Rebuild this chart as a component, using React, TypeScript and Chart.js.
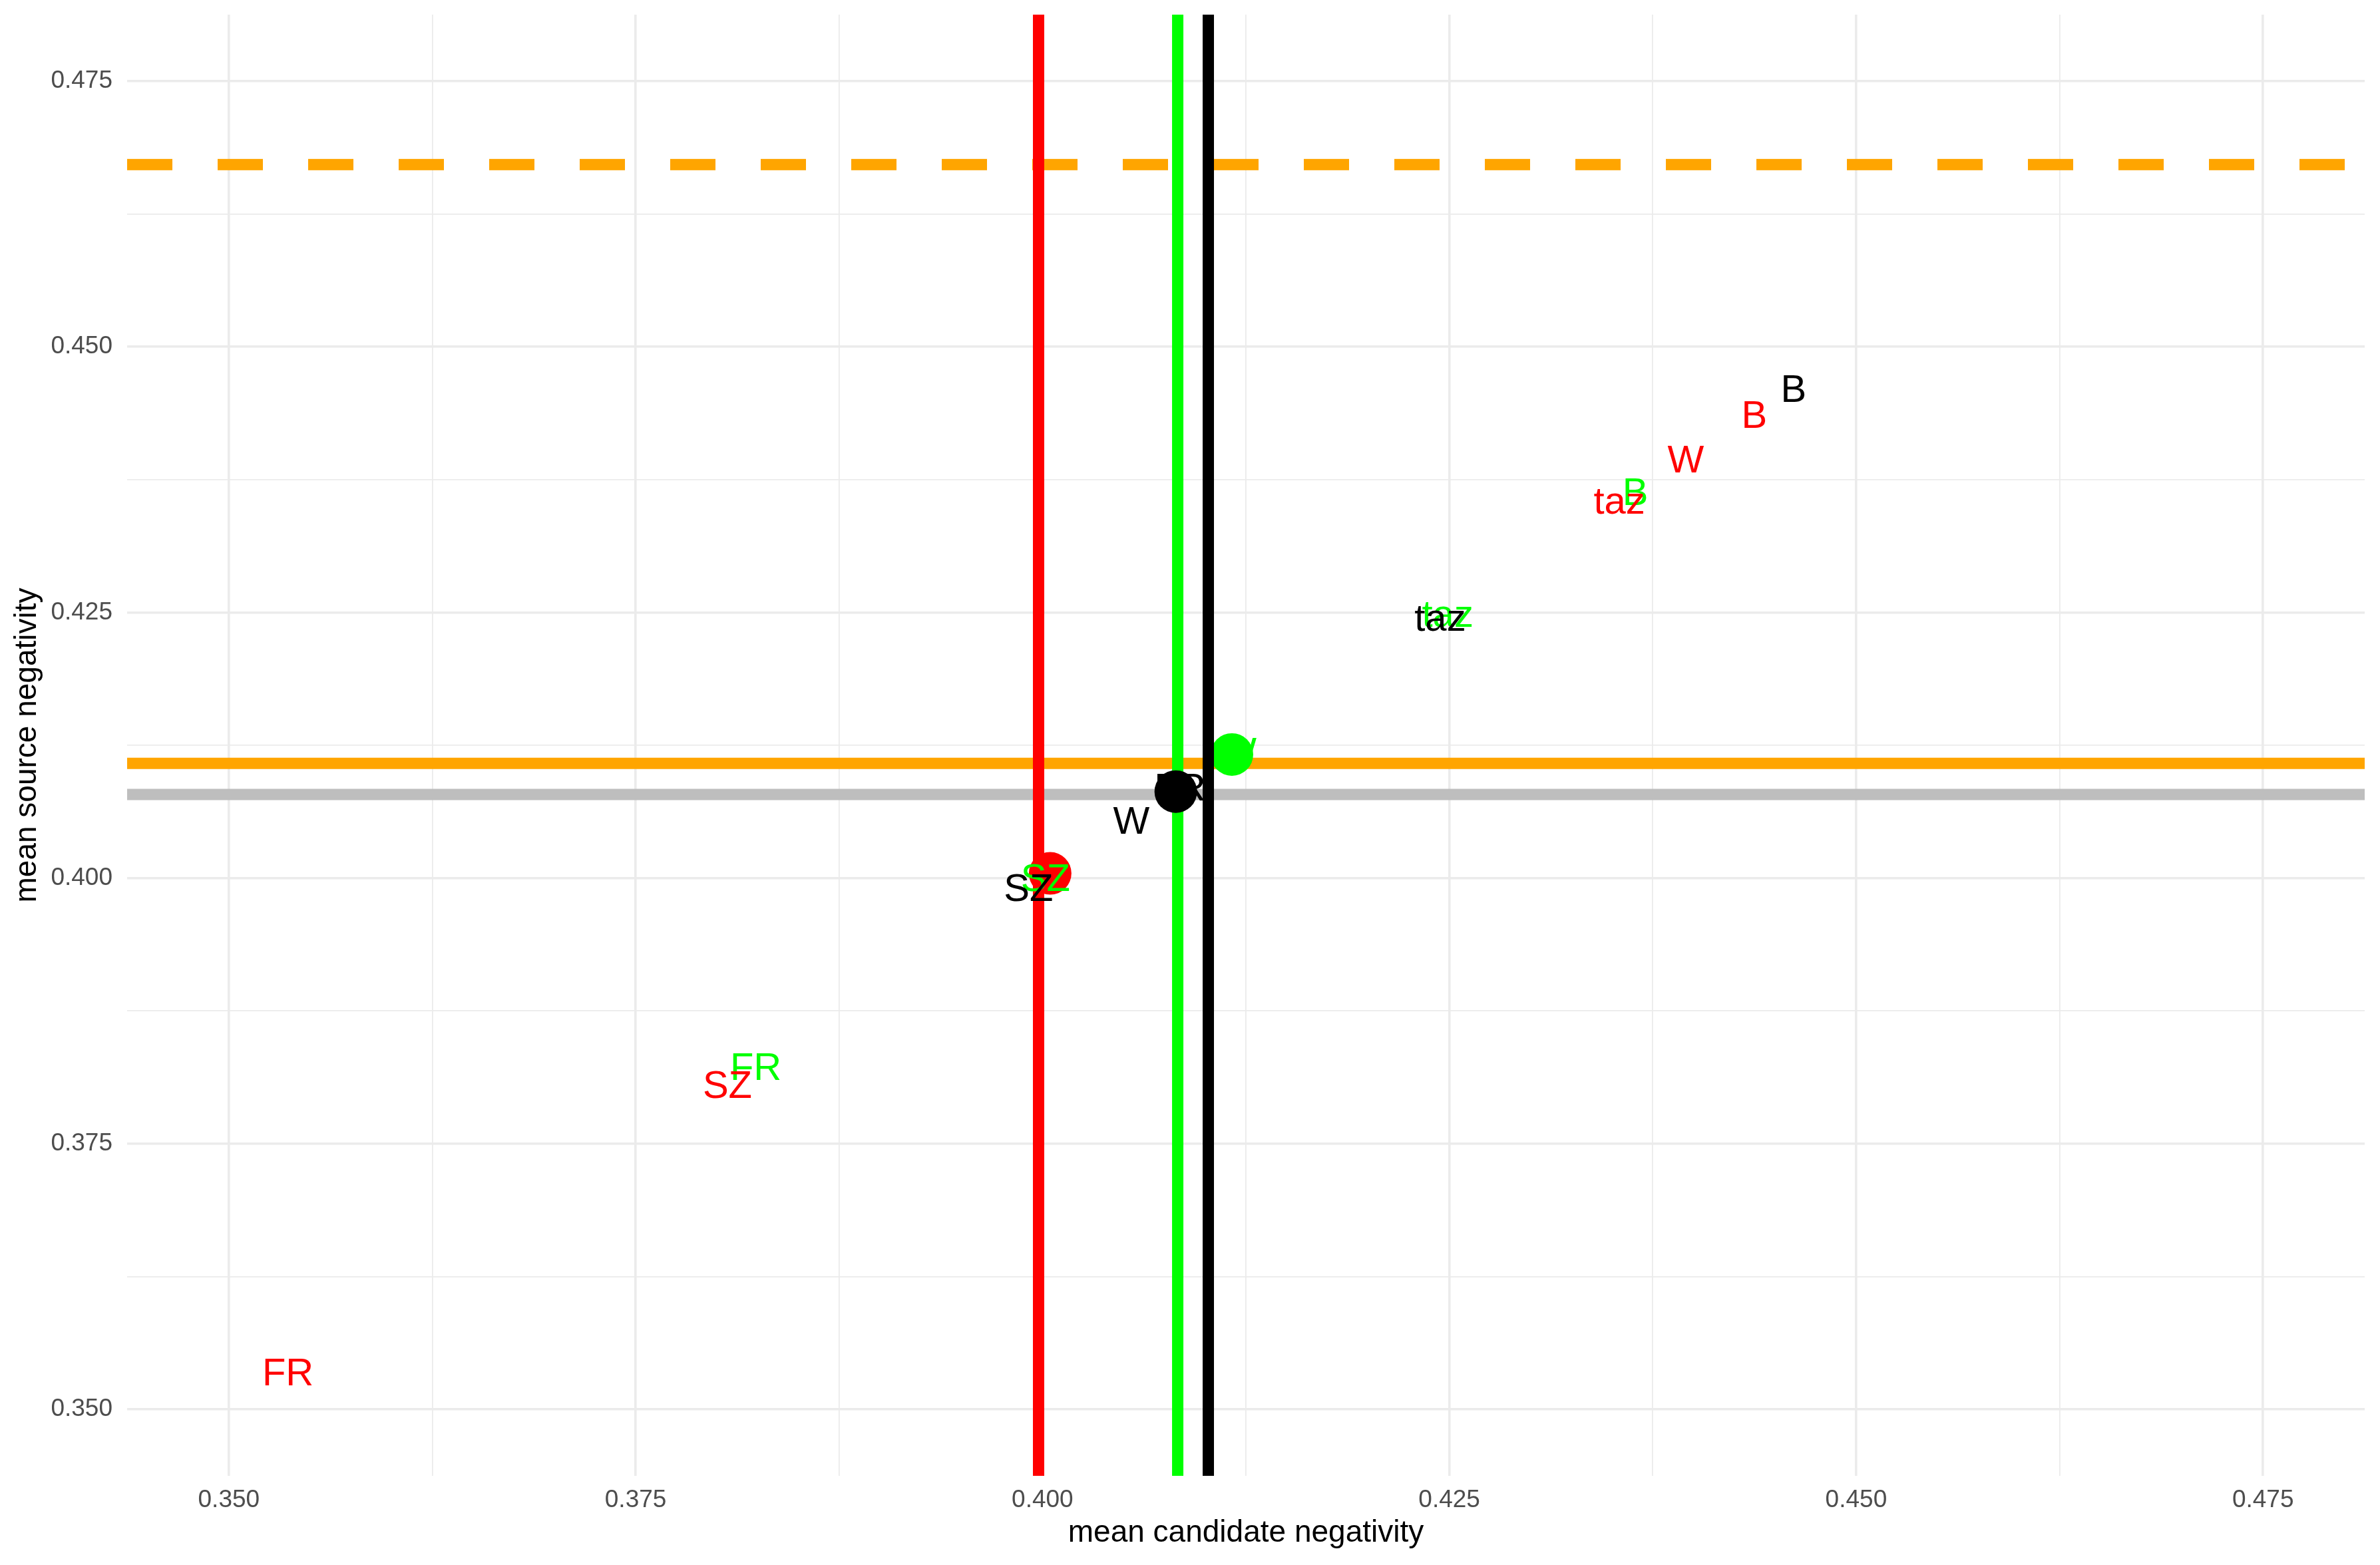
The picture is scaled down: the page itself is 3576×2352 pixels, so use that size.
import React, { useEffect, useRef } from 'react';
import { Chart, registerables } from 'chart.js';

Chart.register(...registerables);

// ---- data ----
const axisLimits = [0.35, 0.475];
const majorTicks = [0.35, 0.375, 0.4, 0.425, 0.45, 0.475];
const minorTicks = [0.3625, 0.3875, 0.4125, 0.4375, 0.4625];

const labelNames = ['FR', 'SZ', 'taz', 'B', 'W'];
const redX = [0.35363, 0.38064, 0.43545, 0.44374, 0.43953];
const redY = [0.3535, 0.38057, 0.43539, 0.44364, 0.43943];
const greenX = [0.38238, 0.40018, 0.4249, 0.43643, 0.41203];
const greenY = [0.38224, 0.40003, 0.42478, 0.43635, 0.41194];
const blackX = [0.40845, 0.39914, 0.42444, 0.44615, 0.40546];
const blackY = [0.40858, 0.39909, 0.42437, 0.44606, 0.4054];

const meanGroups = ['red', 'black', 'green'];
const meanX = [0.40047, 0.40819, 0.41164];
const meanY = [0.40044, 0.40814, 0.41163];

const vlineGroups = ['red', 'green', 'black'];
const vlineX = [0.39976, 0.40831, 0.41019];

const hlineSolidOrange = 0.4108;
const hlineGrey = 0.40786;
const hlineDashedOrange = 0.46714;

const xTitle = 'mean candidate negativity';
const yTitle = 'mean source negativity';

// ---- styles ----
const COLORS: Record<string, string> = {
  red: '#FF0000',
  green: '#00FF00',
  black: '#000000',
  orange: '#FFA500',
  grey: '#BEBEBE',
};
const FAMILY = '"Liberation Sans", Arial, Helvetica, sans-serif';
const W = 3576;
const H = 2352;
const LINE_W = 17;

const expand = (axisLimits[1] - axisLimits[0]) * 0.05;
const LIM_MIN = axisLimits[0] - expand;
const LIM_MAX = axisLimits[1] + expand;
const allTicks = [...majorTicks, ...minorTicks].sort((a, b) => a - b);
const isMajor = (v: number) => majorTicks.some((m) => Math.abs(m - v) < 1e-7);

const zip = (xs: number[], ys: number[]) => xs.map((x, i) => ({ x, y: ys[i] }));

const textLabelPlugin = {
  id: 'textLabels',
  afterDatasetsDraw(chart: any) {
    const ctx = chart.ctx;
    chart.data.datasets.forEach((ds: any, i: number) => {
      if (!ds.textLabels) return;
      const meta = chart.getDatasetMeta(i);
      ctx.save();
      ctx.font = `58px ${FAMILY}`;
      ctx.fillStyle = ds.textColor;
      ctx.textAlign = 'center';
      ctx.textBaseline = 'alphabetic';
      meta.data.forEach((el: any, j: number) => {
        const t = ds.textLabels[j];
        const m = ctx.measureText(t);
        const off = (m.actualBoundingBoxAscent - m.actualBoundingBoxDescent) / 2;
        ctx.fillText(t, el.x, el.y + off);
      });
      ctx.restore();
    });
  },
};

function hline(value: number, color: string, order: number, dash?: number[]) {
  return {
    type: 'line' as const,
    data: [
      { x: LIM_MIN, y: value },
      { x: LIM_MAX, y: value },
    ],
    borderColor: color,
    borderWidth: LINE_W,
    borderDash: dash || [],
    pointRadius: 0,
    fill: false,
    order,
  };
}

function vline(value: number, color: string, order: number) {
  return {
    type: 'line' as const,
    data: [
      { x: value, y: LIM_MIN },
      { x: value, y: LIM_MAX },
    ],
    borderColor: color,
    borderWidth: LINE_W,
    pointRadius: 0,
    fill: false,
    order,
  };
}

function scaleOptions(title: string, isX: boolean) {
  return {
    type: 'linear' as const,
    min: LIM_MIN,
    max: LIM_MAX,
    afterBuildTicks: (axis: any) => {
      axis.ticks = allTicks.map((v) => ({ value: v }));
    },
    afterFit: (axis: any) => {
      if (isX) axis.height = 134;
      else axis.width = 191;
      axis.paddingTop = 0;
      axis.paddingBottom = 0;
      axis.paddingLeft = 0;
      axis.paddingRight = 0;
    },
    ticks: {
      autoSkip: false,
      maxRotation: 0,
      minRotation: 0,
      padding: isX ? 15 : 22,
      color: '#4D4D4D',
      font: { size: 37, family: FAMILY },
      callback: (v: any) => (isMajor(Number(v)) ? Number(v).toFixed(3) : ''),
    },
    grid: {
      color: '#EBEBEB',
      lineWidth: (c: any) => (c.tick ? (isMajor(c.tick.value) ? 3.6 : 1.8) : 0),
      drawTicks: false,
    },
    border: { display: false },
    title: {
      display: true,
      text: title,
      color: '#000000',
      font: { size: 46, family: FAMILY },
      padding: isX ? { top: 0, bottom: 20 } : { top: 13.5, bottom: 0 },
    },
  };
}

export default function App() {
  const canvasRef = useRef<HTMLCanvasElement | null>(null);

  useEffect(() => {
    if (!canvasRef.current) return;
    const vlineOrders = [7, 6, 2];
    const datasets: any[] = [
      hline(hlineSolidOrange, COLORS.orange, 10),
      hline(hlineGrey, COLORS.grey, 9),
      hline(hlineDashedOrange, COLORS.orange, 8, [68, 68]),
      ...vlineX.map((v, i) => vline(v, COLORS[vlineGroups[i]], vlineOrders[i])),
      {
        type: 'scatter',
        data: zip(meanX, meanY),
        pointRadius: 32,
        pointBorderWidth: 0,
        pointBackgroundColor: meanGroups.map((g) => COLORS[g]),
        pointBorderColor: meanGroups.map((g) => COLORS[g]),
        order: 4,
      },
      {
        type: 'scatter',
        data: zip(greenX, greenY),
        pointRadius: 0,
        textLabels: labelNames,
        textColor: COLORS.green,
        order: 1,
      },
      {
        type: 'scatter',
        data: zip(redX, redY),
        pointRadius: 0,
        textLabels: labelNames,
        textColor: COLORS.red,
        order: 1,
      },
      {
        type: 'scatter',
        data: zip(blackX, blackY),
        pointRadius: 0,
        textLabels: labelNames,
        textColor: COLORS.black,
        order: 1,
      },
    ];

    const chart = new Chart(canvasRef.current, {
      type: 'scatter',
      data: { datasets },
      options: {
        animation: false,
        responsive: false,
        devicePixelRatio: 1,
        events: [],
        layout: { autoPadding: false, padding: { top: 22, right: 23, left: 0, bottom: 0 } },
        plugins: {
          legend: { display: false },
          tooltip: { enabled: false },
        },
        scales: {
          x: scaleOptions(xTitle, true),
          y: scaleOptions(yTitle, false),
        },
      } as any,
      plugins: [textLabelPlugin],
    });
    return () => chart.destroy();
  }, []);

  return (
    <canvas
      ref={canvasRef}
      width={W}
      height={H}
      style={{ position: 'fixed', left: 0, top: 0, width: W + 'px', height: H + 'px', background: '#FFFFFF' }}
    />
  );
}
